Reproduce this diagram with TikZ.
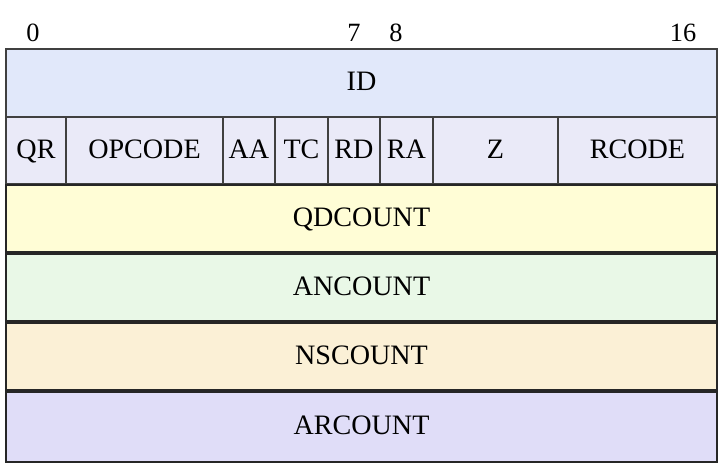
\documentclass[tikz,border=0pt]{standalone}
\usepackage{fontspec}
\setmainfont{Liberation Serif}
\usepackage{xcolor}
\definecolor{idblue}{HTML}{E1E8FA}
\definecolor{flaglav}{HTML}{EAEAF8}
\definecolor{qdyellow}{HTML}{FFFDD6}
\definecolor{angreen}{HTML}{E9F8E7}
\definecolor{nsbeige}{HTML}{FBF0D6}
\definecolor{arlav}{HTML}{E0DDF8}
\tikzset{
field/.style = {rectangle, draw=black!75, line width=0.7pt, fill=#1, inner sep=0pt, text height=0.9em, text depth=0pt, font=\fontsize{16}{18}\selectfont},
field/.default = white, % fill colour of the field
flag/.style = {field=flaglav, minimum height=1.34cm},
count/.style = {field=#1, draw=black!85, line width=1.2pt, minimum width=14.22cm, minimum height=1.34cm},
bit/.style = {inner sep=0pt, font=\fontsize{15}{18}\selectfont},
}

\begin{document}
\begin{tikzpicture}[x=0.02cm, y=-0.02cm]
    \useasboundingbox (0,0) rectangle (723,469);

    % bit numbers
    \node[bit] (b0) at (33,33) {0};
    \node[bit] (b7) at (354,33) {7};
    \node[bit] (b8) at (396,33) {8};
    \node[bit] (b16) at (683,33) {16};

    \node[field=idblue, minimum width=14.22cm, minimum height=1.36cm] (id) at (361.5,83) {ID};

    % flags row
    \node[flag, minimum width=1.2cm] (qr) at (36,150.5) {QR};
    \node[flag, minimum width=3.14cm] (opcode) at (144.5,150.5) {OPCODE};
    \node[flag, minimum width=1.04cm] (aa) at (249,150.5) {AA};
    \node[flag, minimum width=1.06cm] (tc) at (301.5,150.5) {TC};
    \node[flag, minimum width=1.04cm] (rd) at (354,150.5) {RD};
    \node[flag, minimum width=1.06cm] (ra) at (406.5,150.5) {RA};
    \node[flag, minimum width=2.5cm] (z) at (495.5,150.5) {Z};
    \node[flag, minimum width=3.18cm] (rcode) at (637.5,150.5) {RCODE};

    % counters
    \node[count=qdyellow] (qdcount) at (361.5,218.5) {QDCOUNT};
    \node[count=angreen] (ancount) at (361.5,287.5) {ANCOUNT};
    \node[count=nsbeige] (nscount) at (361.5,356.5) {NSCOUNT};
    \node[count=arlav, minimum height=1.4cm] (arcount) at (361.5,427) {ARCOUNT};

\end{tikzpicture}
\end{document}
